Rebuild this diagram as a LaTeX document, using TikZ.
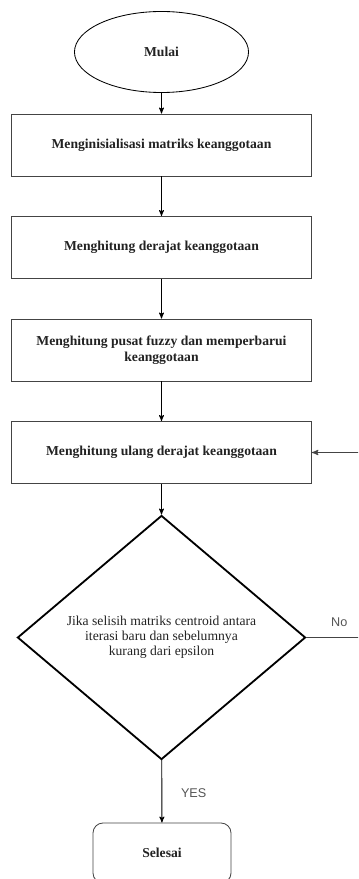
\documentclass[tikz,border=0pt]{standalone}
\usepackage{fontspec}
\setmainfont{Liberation Serif}
\newfontfamily\labelfont{Liberation Sans}
\usetikzlibrary{arrows}
\usetikzlibrary{shapes.geometric}
\definecolor{txtgray}{HTML}{222222}
\definecolor{linegray}{HTML}{444444}
\definecolor{lblgray}{HTML}{555555}
\tikzset{
  procbox/.style={draw=linegray, line width=0.6pt, minimum width=7.5cm, minimum height=1.55cm, inner sep=2pt, align=center, text=txtgray, font=\fontsize{9.7}{11.5}\selectfont\bfseries},
  flow/.style={draw=black, line width=0.6pt, ->, >=stealth'},
  yesno/.style={text=lblgray, font=\labelfont\fontsize{9}{11}\selectfont}
}

\begin{document}
\begin{tikzpicture}[x=0.025cm, y=-0.025cm]
\useasboundingbox (0,0) rectangle (358,879);
\clip (0,0) rectangle (358,879);
\node[draw=black, line width=0.6pt, ellipse, minimum width=4.35cm, minimum height=2.025cm, text=txtgray, font=\fontsize{9.7}{11.5}\selectfont\bfseries] (mulai) at (161.5,52) {Mulai};
\node[procbox] (init) at (161.5,145) {Menginisialisasi matriks keanggotaan};
\node[procbox] (derajat) at (161.5,247.5) {Menghitung derajat keanggotaan};
\node[procbox] (pusat) at (161.5,350) {Menghitung pusat fuzzy dan memperbarui\\keanggotaan};
\node[procbox] (ulang) at (161.5,452.5) {Menghitung ulang derajat keanggotaan};
\node[draw=black, line width=1.3pt, diamond, aspect=1.18, minimum width=7.2cm, minimum height=6.1cm, inner sep=0pt, align=center, text=txtgray, font=\fontsize{9.7}{10.8}\selectfont] (cek) at (161.5,637.5) {Jika selisih matriks centroid antara\\iterasi baru dan sebelumnya\\kurang dari epsilon};
\node[draw=linegray, line width=0.6pt, rounded corners=0.25cm, minimum width=3.45cm, minimum height=1.5cm, text=txtgray, font=\fontsize{9.7}{11.5}\selectfont\bfseries] (selesai) at (162,853) {Selesai};

\draw[flow] (mulai) -- (init);
\draw[flow] (init) -- (derajat);
\draw[flow] (derajat) -- (pusat);
\draw[flow] (pusat) -- (ulang);
\draw[flow] (ulang) -- (cek);
\draw[flow] (cek) -- node[yesno, right, xshift=10pt, yshift=-1pt] {YES} (selesai);
\coordinate (back) at (372,637.5);
\draw[draw=linegray, line width=0.7pt, ->, >=stealth'] (cek.east) -- node[yesno, above, yshift=4pt] {No} (back) |- (ulang.east);
\end{tikzpicture}
\end{document}
